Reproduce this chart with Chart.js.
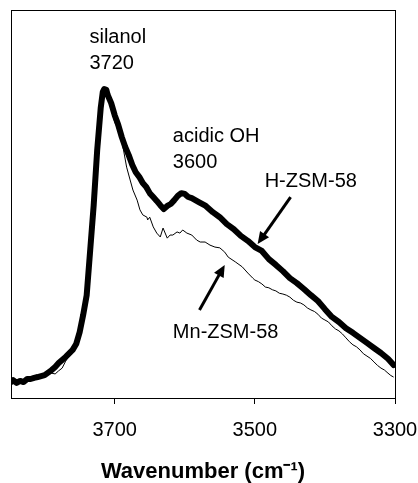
<!DOCTYPE html>
<html>
<head>
<meta charset="utf-8">
<script src="https://cdn.jsdelivr.net/npm/chart.js@4/dist/chart.umd.min.js"></script>
<style>
html,body{margin:0;padding:0;background:#fff;}
canvas{display:block;}
</style>
</head>
<body>
<canvas id="c" width="418" height="483"></canvas>
<script>
// H-ZSM-58: wavenumber (cm-1) and absorbance (a.u.)
const hWavenumbers = [3848,3845,3840,3835,3830,3825,3820,3815,3810,3800,3790,3785,3780,3775,3770,3760,3755,3750,3745,3740,3735,3730,3725,3720,3717,3715,3712,3710,3705,3700,3695,3690,3685,3680,3675,3670,3665,3660,3655,3650,3645,3640,3635,3630,3625,3620,3615,3610,3605,3600,3595,3590,3580,3570,3560,3550,3540,3530,3520,3510,3500,3490,3480,3470,3460,3450,3440,3430,3420,3410,3400,3390,3380,3370,3360,3350,3340,3330,3320,3310,3302];
const hZSM58 = [0.041,0.046,0.039,0.044,0.041,0.049,0.049,0.052,0.054,0.059,0.072,0.080,0.090,0.098,0.106,0.124,0.139,0.170,0.214,0.265,0.381,0.497,0.639,0.747,0.789,0.796,0.794,0.781,0.760,0.729,0.704,0.673,0.647,0.626,0.601,0.582,0.570,0.554,0.544,0.528,0.518,0.508,0.497,0.487,0.495,0.500,0.510,0.521,0.528,0.526,0.518,0.515,0.505,0.495,0.479,0.466,0.448,0.435,0.418,0.405,0.389,0.379,0.358,0.343,0.327,0.309,0.296,0.281,0.265,0.250,0.229,0.209,0.196,0.180,0.168,0.155,0.142,0.129,0.116,0.101,0.085];
// Mn-ZSM-58: wavenumber (cm-1) and absorbance (a.u.)
const mnWavenumbers = [3848,3845,3840,3835,3830,3825,3820,3815,3810,3800,3790,3785,3780,3775,3770,3760,3755,3750,3745,3740,3735,3730,3725,3720,3717,3715,3712,3710,3705,3700,3695,3690,3683,3678,3674,3668,3664,3660,3654,3653,3650,3645,3640,3635,3631,3625,3621,3617,3611,3607,3603,3597,3590,3583,3578,3571,3564,3557,3550,3543,3538,3528,3518,3510,3503,3500,3495,3490,3485,3480,3475,3470,3465,3460,3455,3450,3445,3440,3435,3430,3425,3420,3415,3410,3405,3400,3395,3390,3385,3380,3375,3370,3365,3360,3355,3350,3345,3340,3335,3330,3325,3320,3315,3310,3306,3302];
const mnZSM58 = [0.044,0.049,0.046,0.039,0.046,0.041,0.052,0.049,0.054,0.057,0.064,0.062,0.070,0.077,0.095,0.121,0.137,0.168,0.211,0.260,0.376,0.492,0.631,0.742,0.781,0.789,0.784,0.773,0.747,0.711,0.691,0.665,0.595,0.562,0.536,0.510,0.485,0.472,0.466,0.459,0.466,0.441,0.425,0.415,0.438,0.412,0.420,0.420,0.428,0.425,0.433,0.425,0.420,0.407,0.402,0.402,0.394,0.389,0.387,0.376,0.363,0.351,0.338,0.322,0.309,0.304,0.300,0.294,0.286,0.284,0.279,0.276,0.270,0.268,0.265,0.260,0.252,0.247,0.245,0.240,0.232,0.227,0.223,0.216,0.206,0.201,0.196,0.186,0.178,0.173,0.165,0.155,0.145,0.137,0.132,0.124,0.114,0.108,0.102,0.093,0.084,0.077,0.072,0.064,0.058,0.054];
const tickLabels = [3300,3500,3700];
// Annotations: text, wavenumber, absorbance
const noteTexts = ['silanol','3720','acidic OH','3600','H-ZSM-58','Mn-ZSM-58'];
const noteX = [3736,3736,3617,3617,3486,3617];
const noteY = [0.928,0.863,0.673,0.606,0.557,0.170];
// Arrows: tail -> head
const arrowTailX = [3449,3579];
const arrowTailY = [0.518,0.227];
const arrowHeadX = [3496,3543];
const arrowHeadY = [0.397,0.343];

const FONT = "'Liberation Sans', Arial, Helvetica, sans-serif";

const framePlugin = {
  id: 'frame',
  afterDraw(chart) {
    const {ctx, chartArea: a, scales} = chart;
    ctx.save();
    ctx.strokeStyle = '#000';
    ctx.lineWidth = 1;
    ctx.strokeRect(Math.round(a.left)+0.5, Math.round(a.top)+0.5, Math.round(a.right-a.left), Math.round(a.bottom-a.top));
    ctx.fillStyle = '#000';
    ctx.font = '20px ' + FONT;
    ctx.textAlign = 'left';
    ctx.textBaseline = 'middle';
    const xs = scales.x, ys = scales.y;
    for (let i = 0; i < noteTexts.length; i++) {
      ctx.fillText(noteTexts[i], xs.getPixelForValue(noteX[i]), ys.getPixelForValue(noteY[i]));
    }
    for (let i = 0; i < arrowTailX.length; i++) {
      const x0 = xs.getPixelForValue(arrowTailX[i]), y0 = ys.getPixelForValue(arrowTailY[i]);
      const x1 = xs.getPixelForValue(arrowHeadX[i]), y1 = ys.getPixelForValue(arrowHeadY[i]);
      const ang = Math.atan2(y1-y0, x1-x0);
      const hl = 12, hw = 5.5;
      const bx = x1 - hl*Math.cos(ang), by = y1 - hl*Math.sin(ang);
      ctx.lineWidth = 3;
      ctx.lineCap = 'butt';
      ctx.beginPath(); ctx.moveTo(x0,y0); ctx.lineTo(bx+2*Math.cos(ang),by+2*Math.sin(ang)); ctx.stroke();
      ctx.beginPath();
      ctx.moveTo(x1,y1);
      ctx.lineTo(bx - hw*Math.sin(ang), by + hw*Math.cos(ang));
      ctx.lineTo(bx + hw*Math.sin(ang), by - hw*Math.cos(ang));
      ctx.closePath(); ctx.fill();
    }
    ctx.restore();
  }
};

new Chart(document.getElementById('c'), {
  type: 'line',
  data: {
    datasets: [
      { label: 'H-ZSM-58', data: hWavenumbers.map((x,i)=>({x, y: hZSM58[i]})), borderColor: '#000', borderWidth: 6, pointRadius: 0, tension: 0, borderJoinStyle: 'round', borderCapStyle: 'round', fill: false },
      { label: 'Mn-ZSM-58', data: mnWavenumbers.map((x,i)=>({x, y: mnZSM58[i]})), borderColor: '#000', borderWidth: 1, pointRadius: 0, tension: 0, fill: false }
    ]
  },
  options: {
    responsive: false,
    animation: false,
    events: [],
    layout: { padding: { left: 11, top: 10, right: 23, bottom: 0 } },
    plugins: { legend: { display: false }, tooltip: { enabled: false } },
    scales: {
      x: {
        type: 'linear',
        reverse: true,
        min: 3300,
        max: 3848,
        afterBuildTicks(scale) { scale.ticks = tickLabels.map(v => ({ value: v })); },
        afterFit(scale) { scale.height = 85; scale.paddingLeft = 0; scale.paddingRight = 0; },
        grid: { drawOnChartArea: false, drawTicks: true, tickLength: 6, color: '#000', lineWidth: 1 },
        border: { display: true, color: '#000', width: 1 },
        ticks: { color: '#000', font: { family: FONT, size: 20 }, padding: 14, maxRotation: 0, autoSkip: false, callback: v => String(v) },
        title: { display: true, text: 'Wavenumber (cm\u207B\u00B9)', color: '#000', font: { family: FONT, size: 22, weight: 'bold', lineHeight: 1 }, padding: { top: 0, bottom: 0 } }
      },
      y: {
        display: false,
        min: 0,
        max: 1
      }
    }
  },
  plugins: [framePlugin]
});
</script>
</body>
</html>
